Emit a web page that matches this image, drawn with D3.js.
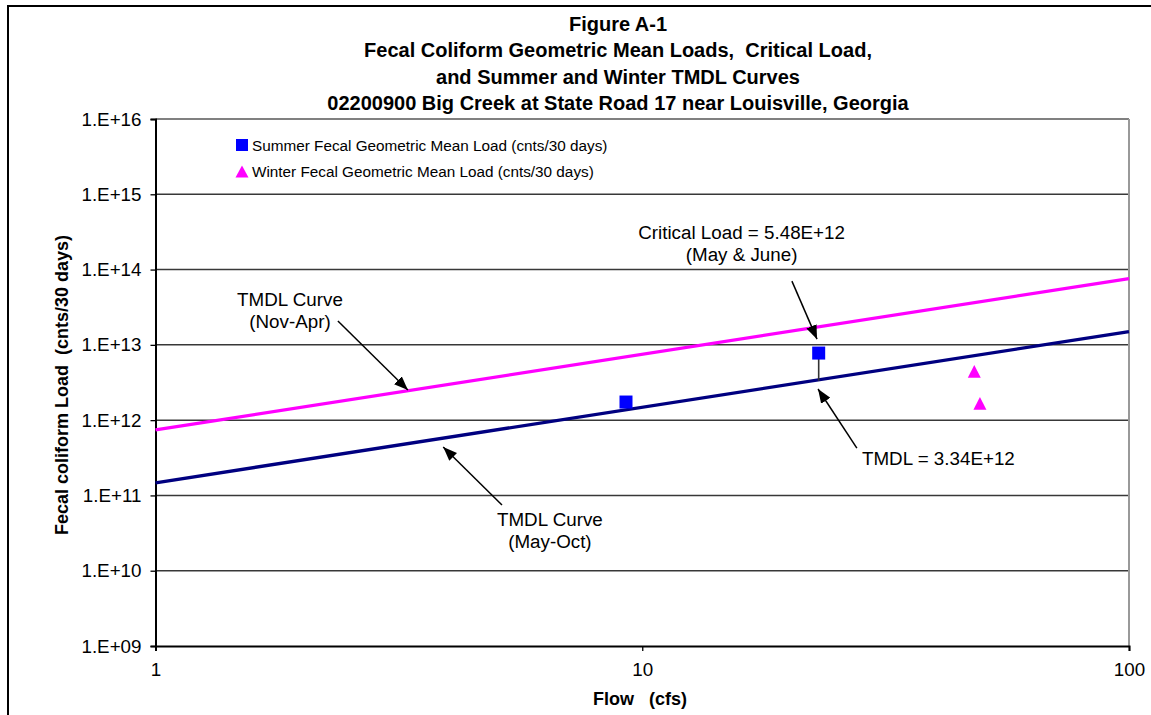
<!DOCTYPE html>
<html><head><meta charset="utf-8">
<script src="https://cdn.jsdelivr.net/npm/d3@7"></script>
<style>
body{margin:0;background:#fff}
text{font-family:"Liberation Sans",Arial,Helvetica,sans-serif;fill:#000}
</style>
</head><body>
<svg id="chart" width="1151" height="715"></svg>
<script>
// ---------- data ----------
const titleLines = [
  "Figure A-1",
  "Fecal Coliform Geometric Mean Loads,  Critical Load,",
  "and Summer and Winter TMDL Curves",
  "02200900 Big Creek at State Road 17 near Louisville, Georgia"
];
const xTickValues = [1, 10, 100];
const yTickValues = [1e9, 1e10, 1e11, 1e12, 1e13, 1e14, 1e15, 1e16];
const xTitle = "Flow   (cfs)";
const yTitle = "Fecal coliform Load  (cnts/30 days)";

const summerFlow = [9.26, 23.04];
const summerLoad = [1.74e12, 7.78e12];
const winterFlow = [48.1, 49.4];
const winterLoad = [4.45e12, 1.67e12];

const curveFlow = [1, 100];
const summerTmdlLoad = [1.47e11, 1.5e13];
const winterTmdlLoad = [7.4e11, 7.6e13];

const criticalFlow = 23.04;
const criticalTmdl = 3.34e12;

const legendLabels = [
  "Summer Fecal Geometric Mean Load (cnts/30 days)",
  "Winter Fecal Geometric Mean Load (cnts/30 days)"
];

// annotations in data space: text anchor [flow, load], arrow from, arrow to
const annLines = [
  ["TMDL Curve", "(Nov-Apr)"],
  ["TMDL Curve", "(May-Oct)"],
  ["Critical Load = 5.48E+12", "(May & June)"],
  ["TMDL = 3.34E+12"]
];
const annText = [[1.889, 3.27e13], [6.46, 3.92e10], [16.0, 2.54e14], [28.28, 2.53e11]];
const annAnchor = ["middle", "middle", "middle", "start"];
const annFrom = [[2.37, 2.07e13], [5.15, 7.46e10], [20.3, 7.03e13], [27.6, 4.26e11]];
const annTo = [[3.30, 2.51e12], [3.90, 4.39e11], [22.86, 1.19e13], [22.97, 2.59e12]];

// ---------- layout ----------
const svg = d3.select("#chart");
const L = 155.5, R = 1129, T = 119, B = 646;
const x = d3.scaleLog().domain([1, 100]).range([L, R]);
const y = d3.scaleLog().domain([1e9, 1e16]).range([B, T]);

// outer border
svg.append("rect").attr("x", 8).attr("y", 6).attr("width", 1200).attr("height", 800)
  .attr("fill", "none").attr("stroke", "#000").attr("stroke-width", 2);

// title
svg.append("g").selectAll("text").data(titleLines).join("text")
  .attr("x", 618).attr("y", (d, i) => 31 + i * 26.3)
  .attr("text-anchor", "middle").attr("font-weight", "bold").attr("font-size", 20)
  .style("white-space", "pre").text(d => d);

// gridlines
svg.append("g").selectAll("line").data(yTickValues.filter(v => v > 1e9 && v < 1e16)).join("line")
  .attr("x1", L).attr("x2", R).attr("y1", d => y(d)).attr("y2", d => y(d))
  .attr("stroke", "#383838").attr("stroke-width", 1.5);

// frame top & right (gray)
svg.append("line").attr("x1", L).attr("x2", R).attr("y1", T).attr("y2", T)
  .attr("stroke", "#808080").attr("stroke-width", 2);
svg.append("line").attr("x1", R).attr("x2", R).attr("y1", T).attr("y2", B)
  .attr("stroke", "#999").attr("stroke-width", 2);

// axes
const yAxis = d3.axisLeft(y).tickValues(yTickValues).tickSize(5).tickPadding(9)
  .tickFormat(d => "1.E+" + String(Math.round(Math.log10(d))).padStart(2, "0"));
const gy = svg.append("g").attr("transform", `translate(${L},0)`).call(yAxis);
gy.select(".domain").attr("stroke", "#000").attr("stroke-width", 2);
gy.selectAll(".tick line").attr("stroke", "#000").attr("stroke-width", 1.3);
gy.selectAll(".tick text").attr("font-size", 18.8).attr("font-family", null).attr("fill", "#000");

const xAxis = d3.axisBottom(x).tickValues(xTickValues).tickSize(5).tickPadding(12)
  .tickFormat(d3.format("d"));
const gx = svg.append("g").attr("transform", `translate(0,${B})`).call(xAxis);
gx.select(".domain").attr("stroke", "#000").attr("stroke-width", 2);
gx.selectAll(".tick line").attr("stroke", "#000").attr("stroke-width", 1.3);
gx.selectAll(".tick text").attr("font-size", 18.8).attr("font-family", null).attr("fill", "#000");

// axis titles
svg.append("text").attr("x", 640).attr("y", 705).attr("text-anchor", "middle")
  .attr("font-weight", "bold").attr("font-size", 18).style("white-space", "pre").text(xTitle);
svg.append("text").attr("transform", "translate(68,385) rotate(-90)").attr("text-anchor", "middle")
  .attr("font-weight", "bold").attr("font-size", 18).style("white-space", "pre").text(yTitle);

// TMDL curves
const line = d3.line().x(d => x(d[0])).y(d => y(d[1]));
svg.append("path").datum(curveFlow.map((f, i) => [f, winterTmdlLoad[i]]))
  .attr("d", line).attr("fill", "none").attr("stroke", "#FF00FF").attr("stroke-width", 3.3);
svg.append("path").datum(curveFlow.map((f, i) => [f, summerTmdlLoad[i]]))
  .attr("d", line).attr("fill", "none").attr("stroke", "#000080").attr("stroke-width", 3.3);

// connector from critical point to TMDL
svg.append("line")
  .attr("x1", x(criticalFlow)).attr("x2", x(criticalFlow))
  .attr("y1", y(summerLoad[1])).attr("y2", y(criticalTmdl))
  .attr("stroke", "#333").attr("stroke-width", 1.6);

// summer squares
const sq = 13;
svg.append("g").selectAll("rect").data(summerFlow.map((f, i) => [f, summerLoad[i]])).join("rect")
  .attr("x", d => x(d[0]) - sq / 2).attr("y", d => y(d[1]) - sq / 2)
  .attr("width", sq).attr("height", sq).attr("fill", "#0000FF");

// winter triangles
const tri = (cx, cy, w, h) => `M${cx},${cy - h / 2}L${cx + w / 2},${cy + h / 2}L${cx - w / 2},${cy + h / 2}Z`;
svg.append("g").selectAll("path").data(winterFlow.map((f, i) => [f, winterLoad[i]])).join("path")
  .attr("d", d => tri(x(d[0]), y(d[1]), 13, 12.7)).attr("fill", "#FF00FF");

// legend
svg.append("rect").attr("x", 236).attr("y", 139).attr("width", 12).attr("height", 12).attr("fill", "#0000FF");
svg.append("path").attr("d", tri(242, 171.5, 13, 12)).attr("fill", "#FF00FF");
svg.append("g").selectAll("text").data(legendLabels).join("text")
  .attr("x", 252).attr("y", (d, i) => 150.5 + i * 26.5).attr("font-size", 15.3).text(d => d);

// arrow marker
svg.append("defs").append("marker").attr("id", "ah")
  .attr("viewBox", "0 0 14 11").attr("refX", 14).attr("refY", 5.5)
  .attr("markerWidth", 14).attr("markerHeight", 11).attr("markerUnits", "userSpaceOnUse")
  .attr("orient", "auto")
  .append("path").attr("d", "M0,0L14,5.5L0,11Z").attr("fill", "#000");

// annotations
annLines.forEach((lines, i) => {
  svg.append("line")
    .attr("x1", x(annFrom[i][0])).attr("y1", y(annFrom[i][1]))
    .attr("x2", x(annTo[i][0])).attr("y2", y(annTo[i][1]))
    .attr("stroke", "#000").attr("stroke-width", 1.5).attr("marker-end", "url(#ah)");
  const t = svg.append("text").attr("font-size", 18.8).attr("text-anchor", annAnchor[i]);
  lines.forEach((s, j) => {
    t.append("tspan").attr("x", x(annText[i][0])).attr("y", y(annText[i][1]) + j * 22).text(s);
  });
});
</script>
</body></html>
